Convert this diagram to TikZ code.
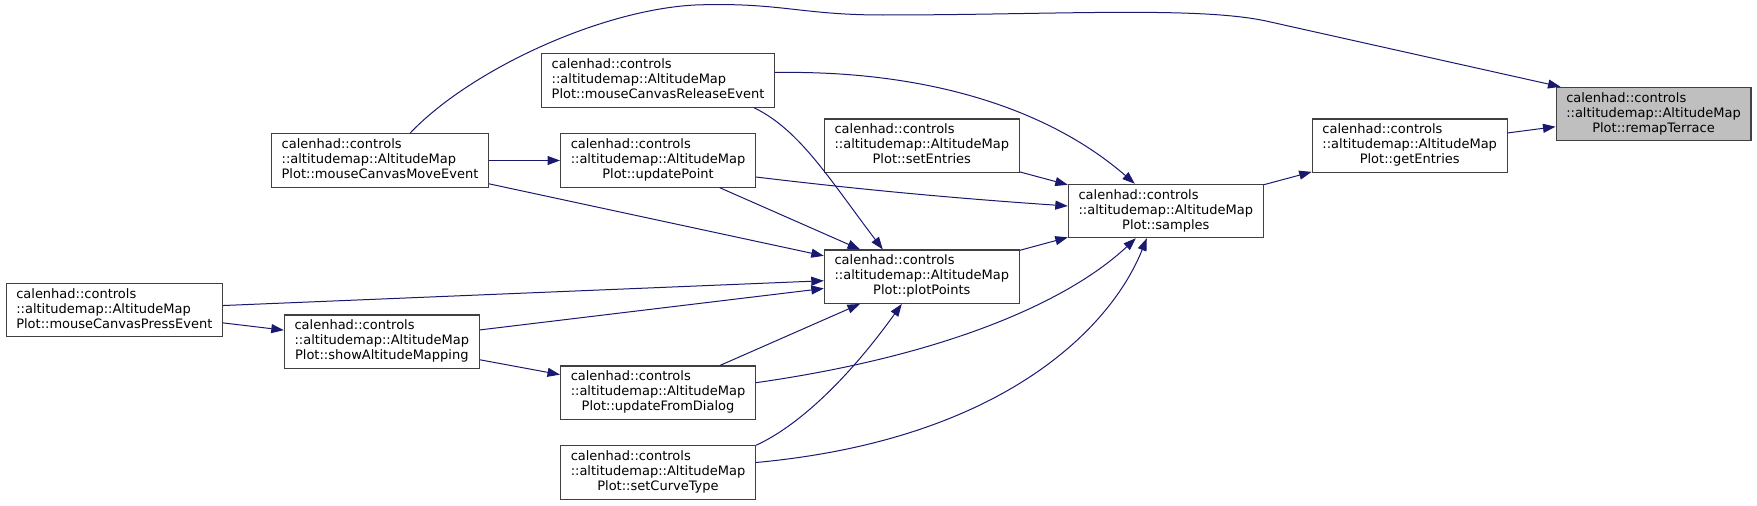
\documentclass[tikz,border=0pt]{standalone}
\usepackage{fontspec}
\setmainfont{DejaVu Sans}
\usepackage{tikz}
\usetikzlibrary{arrows.meta,calc}
\definecolor{edgeblue}{HTML}{191970}
\definecolor{boxline}{HTML}{404040}
\definecolor{markfill}{HTML}{BFBFBF}
\newcommand{\fnlbl}[1]{\begin{tabular}{@{}l@{}}calenhad::controls\\::altitudemap::AltitudeMap\\\multicolumn{1}{@{}c@{}}{Plot::#1}\end{tabular}}
\tikzset{
  fnbox/.style   = {draw=boxline, line width=1.1pt, rectangle, fill=white,
                    inner xsep=10.2pt, inner ysep=4.2pt,
                    font=\fontsize{13}{15}\selectfont},
  fnmark/.style  = {fnbox, fill=markfill},
  callarr/.style = {-{Triangle[length=12.5pt,width=9pt]}, draw=edgeblue, line width=1pt},
}
\begin{document}
\begin{tikzpicture}[x=1pt,y=-1pt]
\useasboundingbox (0,0) rectangle (1757,506);
\node[fnmark] (remapTerrace) at (1653.5,114) {\fnlbl{remapTerrace}};
\node[fnbox] (getEntries) at (1409.7,145.7) {\fnlbl{getEntries}};
\node[fnbox] (samples) at (1165.8,211) {\fnlbl{samples}};
\node[fnbox] (setEntries) at (921.8,145.7) {\fnlbl{setEntries}};
\node[fnbox] (plotPoints) at (921.8,276.7) {\fnlbl{plotPoints}};
\node[fnbox] (releaseEvt) at (658,80.5) {\fnlbl{mouseCanvasReleaseEvent}};
\node[fnbox] (updatePoint) at (658,160.5) {\fnlbl{updatePoint}};
\node[fnbox] (updateDialog) at (658,392.7) {\fnlbl{updateFromDialog}};
\node[fnbox] (setCurveType) at (658,472.5) {\fnlbl{setCurveType}};
\node[fnbox] (moveEvt) at (380,160.5) {\fnlbl{mouseCanvasMoveEvent}};
\node[fnbox] (showMapping) at (381.8,341.7) {\fnlbl{showAltitudeMapping}};
\node[fnbox] (pressEvt) at (114.3,310) {\fnlbl{mouseCanvasPressEvent}};
% straight calls
\draw[callarr] (moveEvt) -- (updatePoint);
\draw[callarr] (moveEvt) -- (plotPoints);
\draw[callarr] (pressEvt) -- (plotPoints);
\draw[callarr] (pressEvt) -- (showMapping);
\draw[callarr] (showMapping) -- (plotPoints);
\draw[callarr] (showMapping) -- (updateDialog);
\draw[callarr] (updatePoint) -- (plotPoints);
\draw[callarr] (updateDialog) -- (plotPoints);
\draw[callarr] (setEntries) -- (samples);
\draw[callarr] (plotPoints) -- (samples);
\draw[callarr] (samples) -- (getEntries);
\draw[callarr] (getEntries) -- (remapTerrace);
% curved calls
\draw[callarr] ($(updatePoint.east)+(0,16.5)$) .. controls (880,192) and (980,200) .. ($(samples.west)+(0,-5)$);
\draw[callarr] ($(releaseEvt.east)+(0,-8)$) .. controls (930,70) and (1050,110) .. ($(samples.north)+(-31,0)$);
\draw[callarr] ($(releaseEvt.south east)+(-21,0)$) .. controls (800,130) and (830,180) .. ($(plotPoints.north)+(-39,0)$);
\draw[callarr] ($(updateDialog.east)+(0,-10)$) .. controls (950,355) and (1070,300) .. ($(samples.south)+(-30,0)$);
\draw[callarr] ($(setCurveType.east)+(0,-10)$) .. controls (1000,440) and (1110,330) .. ($(samples.south)+(-19,0)$);
\draw[callarr] (setCurveType.north east) .. controls (790,430) and (840,390) .. ($(plotPoints.south)+(-20,0)$);
\draw[callarr] ($(moveEvt.north)+(30,0)$) .. controls (470,70) and (600,10) .. (695,5)
  .. controls (780,2) and (800,15) .. (883,15) .. controls (1050,15) and (1196,6) .. (1266,21)
  -- ($(remapTerrace.north west)+(5,0)$);
\end{tikzpicture}
\end{document}
